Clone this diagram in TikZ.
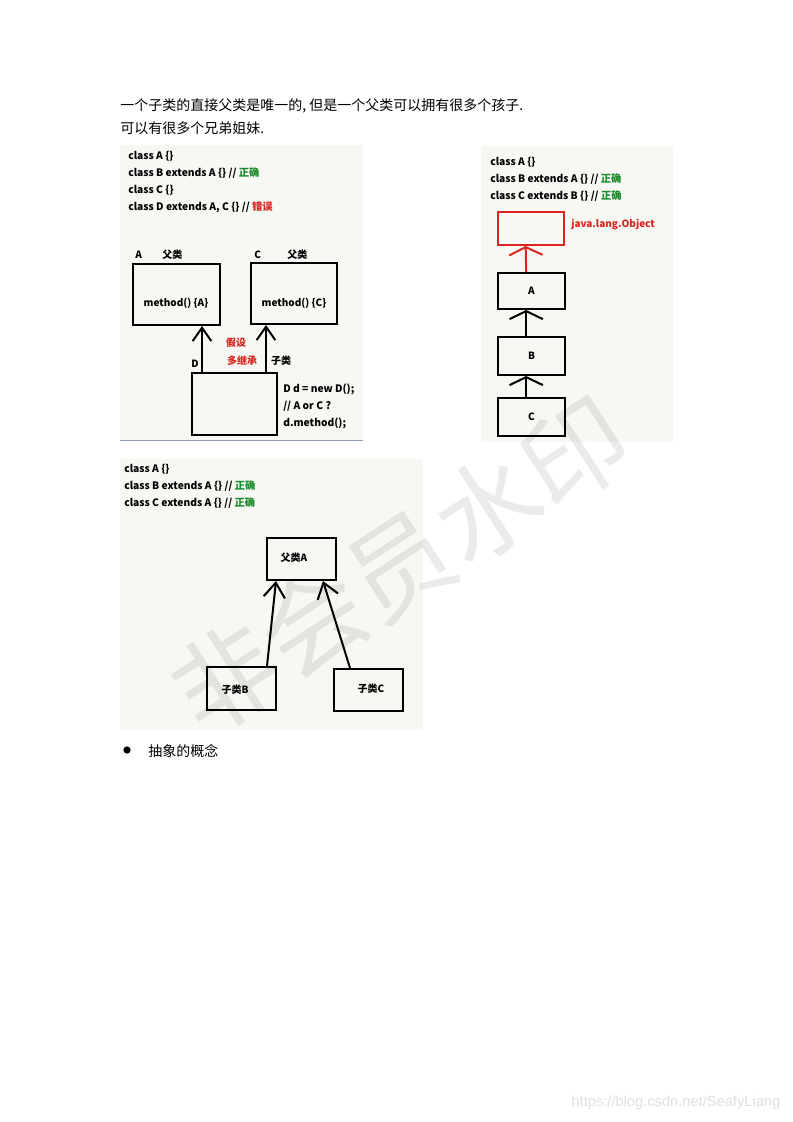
\documentclass[tikz,border=0pt]{standalone}
\usepackage{fontspec}
\setmainfont{Noto Sans CJK SC}
\setsansfont{Liberation Sans}
\usepackage{xcolor}
\usetikzlibrary{arrows.meta}
\definecolor{okgreen}{HTML}{1B8B2B}
\definecolor{badred}{HTML}{D9251D}
\definecolor{panelbg}{HTML}{F7F7F4}
\definecolor{rulecol}{HTML}{8E9CB4}
\tikzset{
  box/.style={draw,line width=1.5pt,inner sep=0pt,font=\bfseries\fontsize{7.5}{9}\selectfont},
  objbox/.style={draw=badred,line width=1.5pt,inner sep=0pt},
  code/.style={anchor=north west,align=left,inner sep=0pt,font=\bfseries\fontsize{7.7}{12.75}\selectfont},
  lbl/.style={anchor=west,inner sep=0pt,font=\bfseries\fontsize{7.5}{9}\selectfont},
  txt/.style={anchor=west,inner sep=0pt,font=\fontsize{10.5}{12}\selectfont},
  arr/.style={-{Straight Barb[length=10pt,width=14pt]},line width=1.5pt},
  flat/.style={-{Straight Barb[length=6pt,width=25pt]},line width=1.5pt},
  sharp/.style={-{Straight Barb[length=11pt,width=16pt]},line width=1.5pt},
}

\begin{document}
\begin{tikzpicture}[x=0.75pt,y=-0.75pt]
\useasboundingbox[fill=white] (0,0) rectangle (793,1122);
\node[txt] (lineone) at (120,106) {一个子类的直接父类是唯一的, 但是一个父类可以拥有很多个孩子.};
\node[txt] (linetwo) at (120,128) {可以有很多个兄弟姐妹.};

% multiple inheritance (not allowed)
\fill[panelbg] (120,145) rectangle (363,440);
\draw[rulecol,line width=1.2pt] (120,440.5) -- (363,440.5);
\node[code] (codeone) at (128,151) {class A \{\}\\class B extends A \{\} // \textcolor{okgreen}{正确}\\class C \{\}\\class D extends A, C \{\} // \textcolor{badred}{错误}};
\node[box,minimum width=65.25pt,minimum height=45.75pt] (clsA) at (176.5,294.5) {};
\node[lbl,anchor=center] (methA) at (176,303) {method() \{A\}};
\node[lbl] (nameA) at (135,255) {A};
\node[lbl] (parA) at (162,255) {父类};
\node[box,minimum width=64.5pt,minimum height=45.75pt] (clsC) at (294,293.5) {};
\node[lbl,anchor=center] (methC) at (294,303) {method() \{C\}};
\node[lbl] (nameC) at (254,255) {C};
\node[lbl] (parC) at (287,255) {父类};
\node[box,minimum width=63.75pt,minimum height=46.5pt] (clsD) at (234.5,404) {};
\node[lbl] (nameD) at (191,364) {D};
\node[lbl,text=badred,anchor=center] (assume) at (236,343) {假设};
\node[lbl,text=badred,anchor=center] (multi) at (242,361) {多继承};
\node[lbl,anchor=center] (childD) at (281,361) {子类};
\node[code] (calld) at (283,384) {D d = new D();\\// A or C ?\\d.method();};
\draw[arr] ([xshift=8.25pt]clsD.north west) -- ([xshift=8.25pt]clsD.north west |- clsA.south);
\draw[arr] ([xshift=-9pt]clsD.north east) -- ([xshift=-9pt]clsD.north east |- clsC.south);

% chain up to Object
\fill[panelbg] (481,146) rectangle (673,442);
\node[code] (codetwo) at (490,157) {class A \{\}\\class B extends A \{\} // \textcolor{okgreen}{正确}\\class C extends B \{\} // \textcolor{okgreen}{正确}};
\node[objbox,minimum width=49.5pt,minimum height=24.75pt] (obj) at (531,228.5) {};
\node[lbl,text=badred] (objname) at (571,225) {java.lang.Object};
\node[box,minimum width=50.25pt,minimum height=27pt] (ca) at (531.5,291) {A};
\node[box,minimum width=50.25pt,minimum height=28.5pt] (cb) at (531.5,356) {B};
\node[box,minimum width=50.25pt,minimum height=28.5pt] (cc) at (531.5,417) {C};
\draw[flat,badred] ([xshift=-4pt]ca.north) -- ([xshift=-4pt]obj.south);
\draw[flat] ([xshift=-4pt]cb.north) -- ([xshift=-4pt]ca.south);
\draw[flat] ([xshift=-4pt]cc.north) -- ([xshift=-4pt]cb.south);

% siblings
\fill[panelbg] (120,459) rectangle (423,730);
\node[code] (codethree) at (124,464) {class A \{\}\\class B extends A \{\} // \textcolor{okgreen}{正确}\\class C extends A \{\} // \textcolor{okgreen}{正确}};
\node[box,minimum width=51.75pt,minimum height=31.5pt] (sup) at (301.5,559) {};
\node[lbl,anchor=center] (supname) at (294,558) {父类A};
\node[box,minimum width=51.75pt,minimum height=32.25pt] (subB) at (241.5,688.5) {};
\node[lbl,anchor=center] (subBname) at (235,690) {子类B};
\node[box,minimum width=51.75pt,minimum height=31.5pt] (subC) at (368.5,690) {};
\node[lbl,anchor=center] (subCname) at (371,689) {子类C};
\draw[sharp] ([xshift=45.75pt]subB.north west) -- ([xshift=7.5pt]sup.south west);
\draw[sharp] ([xshift=12.75pt]subC.north west) -- ([xshift=-10.5pt]sup.south east);

\node[circle,fill,inner sep=0pt,minimum size=5.5pt] (dot) at (127,750) {};
\node[txt] (abstract) at (148,751) {抽象的概念};

% watermarks
\node[rotate=33,text=black,text opacity=0.08,font=\fontsize{78}{80}\selectfont] (mark) at (400,565) {非会员水印};
\node[anchor=east,text=black!12,font=\sffamily\fontsize{11}{12}\selectfont] (url) at (785,1103) {https://blog.csdn.net/SeafyLiang};
\end{tikzpicture}
\end{document}
